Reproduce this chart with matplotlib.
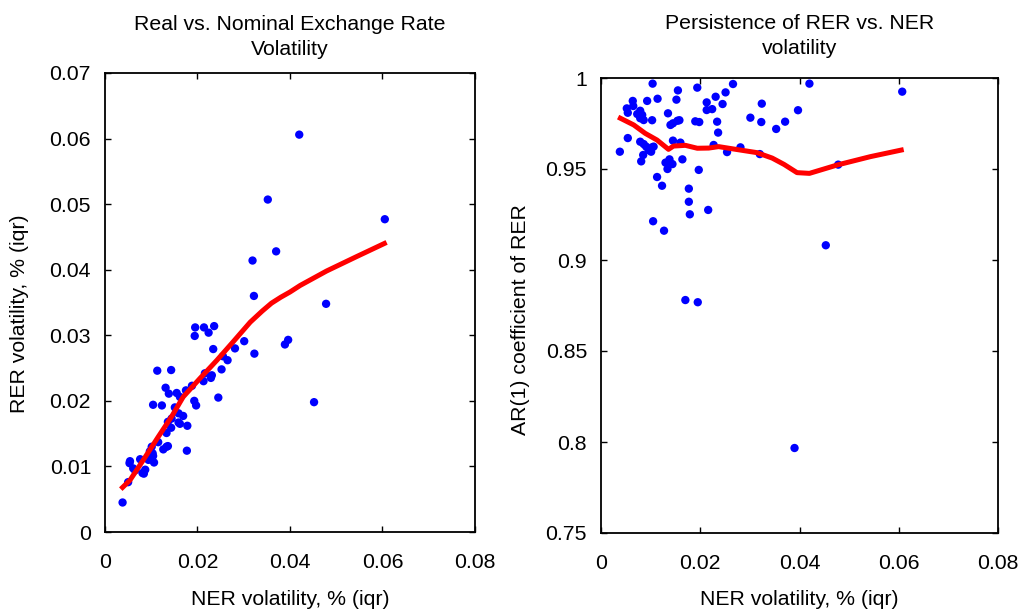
import matplotlib
matplotlib.use("Agg")
import matplotlib.pyplot as plt
import numpy as np

plt.rcParams["font.family"] = ["Liberation Sans", "DejaVu Sans"]

# -- left panel: RER volatility vs NER volatility ----------------------------
ner_left = [0.0038, 0.0050, 0.0053, 0.0054, 0.0061, 0.0065, 0.0076, 0.0081,
            0.0084, 0.0087, 0.0094, 0.0097, 0.0101, 0.0103, 0.0104, 0.0106,
            0.0113, 0.0104, 0.0115, 0.0123, 0.0126, 0.0133, 0.0136, 0.0131,
            0.0133, 0.0136, 0.0138, 0.0143, 0.0143, 0.0144, 0.0151, 0.0155,
            0.0159, 0.0162, 0.0159, 0.0162, 0.0169, 0.0175, 0.0178, 0.0177,
            0.0188, 0.0193, 0.0197, 0.0195, 0.0194, 0.0214, 0.0213, 0.0216,
            0.0224, 0.0229, 0.0231, 0.0236, 0.0234, 0.0245, 0.0252, 0.0265,
            0.0255, 0.0281, 0.0301, 0.0319, 0.0322, 0.0323, 0.0370, 0.0389,
            0.0396, 0.0352, 0.0420, 0.0605, 0.0478, 0.0452]
rer_left = [0.0045, 0.0076, 0.0105, 0.0108, 0.0097, 0.0094, 0.0111, 0.0090,
            0.0089, 0.0095, 0.0110, 0.0123, 0.0130, 0.0120, 0.0116, 0.0106,
            0.0246, 0.0194, 0.0137, 0.0193, 0.0126, 0.0130, 0.0131, 0.0220,
            0.0151, 0.0168, 0.0211, 0.0247, 0.0159, 0.0173, 0.0190, 0.0212,
            0.0181, 0.0206, 0.0167, 0.0165, 0.0177, 0.0216, 0.0162, 0.0124,
            0.0223, 0.0200, 0.0193, 0.0312, 0.0299, 0.0312, 0.0230, 0.0242,
            0.0304, 0.0235, 0.0239, 0.0314, 0.0279, 0.0205, 0.0248, 0.0262,
            0.0268, 0.0280, 0.0291, 0.0414, 0.0360, 0.0272, 0.0428, 0.0286,
            0.0293, 0.0507, 0.0606, 0.0477, 0.0348, 0.0198]
fit_left_x = [0.0038, 0.0054, 0.0083, 0.0115, 0.0144, 0.0169, 0.0205, 0.0242,
              0.0277, 0.0314, 0.0340, 0.0360, 0.0380, 0.0400, 0.0422, 0.0479,
              0.0544, 0.0604]
fit_left_y = [0.0068, 0.0079, 0.0110, 0.0145, 0.0176, 0.0206, 0.0234, 0.0262,
              0.0290, 0.0320, 0.0337, 0.0349, 0.0358, 0.0366, 0.0376, 0.0398,
              0.0420, 0.0440]

# -- right panel: AR(1) of RER vs NER volatility -----------------------------
ner_right = [0.0104, 0.0194, 0.0266, 0.0155, 0.0251, 0.0064, 0.0093, 0.0114,
             0.0152, 0.0231, 0.0052, 0.0065, 0.0054, 0.0079, 0.0073, 0.0083,
             0.0086, 0.0079, 0.0213, 0.0245, 0.0213, 0.0224, 0.0324, 0.0135,
             0.0103, 0.0140, 0.0145, 0.0154, 0.0158, 0.0190, 0.0198, 0.0234,
             0.0301, 0.0323, 0.0371, 0.0353, 0.0236, 0.0054, 0.0038, 0.0079,
             0.0086, 0.0091, 0.0096, 0.0103, 0.0106, 0.0101, 0.0085, 0.0081,
             0.0145, 0.0160, 0.0227, 0.0254, 0.0281, 0.0320, 0.0130, 0.0138,
             0.0144, 0.0134, 0.0164, 0.0197, 0.0113, 0.0123, 0.0177, 0.0177,
             0.0179, 0.0216, 0.0105, 0.0127, 0.0420, 0.0607, 0.0397, 0.0478,
             0.0453, 0.0170, 0.0195, 0.0390]
ar1_right = [0.9969, 0.9947, 0.9967, 0.9932, 0.9921, 0.9874, 0.9874, 0.9886,
             0.9881, 0.9897, 0.9833, 0.9846, 0.9809, 0.9820, 0.9802, 0.9797,
             0.9769, 0.9779, 0.9866, 0.9857, 0.9824, 0.9829, 0.9859, 0.9806,
             0.9768, 0.9742, 0.9751, 0.9765, 0.9768, 0.9762, 0.9758, 0.9760,
             0.9782, 0.9758, 0.9760, 0.9720, 0.9700, 0.9670, 0.9595, 0.9650,
             0.9637, 0.9623, 0.9604, 0.9619, 0.9623, 0.9595, 0.9577, 0.9542,
             0.9656, 0.9645, 0.9632, 0.9593, 0.9619, 0.9582, 0.9535, 0.9553,
             0.9527, 0.9500, 0.9553, 0.9495, 0.9456, 0.9408, 0.9392, 0.9320,
             0.9251, 0.9275, 0.9213, 0.9161, 0.9969, 0.9925, 0.9823, 0.9524,
             0.9081, 0.8780, 0.8768, 0.7967]
fit_right_x = [0.0039, 0.0066, 0.0089, 0.0113, 0.0136, 0.0146, 0.0170, 0.0194,
               0.0217, 0.0237, 0.0267, 0.0314, 0.0345, 0.0369, 0.0395, 0.0420,
               0.0476, 0.0543, 0.0605]
fit_right_y = [0.9779, 0.9742, 0.9696, 0.9659, 0.9608, 0.9626, 0.9630, 0.9614,
               0.9615, 0.9623, 0.9610, 0.9590, 0.9560, 0.9525, 0.9480, 0.9476,
               0.9522, 0.9568, 0.9604]

xticks = [0, 0.02, 0.04, 0.06, 0.08]
xticklabels = ["0", "0.02", "0.04", "0.06", "0.08"]
yticks_left = [0, 0.01, 0.02, 0.03, 0.04, 0.05, 0.06, 0.07]
yticklabels_left = ["0", "0.01", "0.02", "0.03", "0.04", "0.05", "0.06", "0.07"]
yticks_right = [0.75, 0.8, 0.85, 0.9, 0.95, 1.0]
yticklabels_right = ["0.75", "0.8", "0.85", "0.9", "0.95", "1"]

FS = 15.3

fig = plt.figure(figsize=(10.2, 6.09), dpi=100)
ax1 = fig.add_axes([105 / 1020, 77 / 609, 370 / 1020, 459 / 609])
ax2 = fig.add_axes([601 / 1020, 76 / 609, 397 / 1020, 455 / 609])


def style(ax, yticks, yticklabels, ylim):
    ax.set_xlim(0, 0.08)
    ax.set_ylim(*ylim)
    ax.set_xticks(xticks)
    ax.set_xticklabels(xticklabels)
    ax.set_yticks(yticks)
    ax.set_yticklabels(yticklabels)
    ax.tick_params(direction="in", length=4, width=1, top=True, right=True,
                   labelsize=FS, color="black")
    ax.tick_params(axis="x", pad=15)
    ax.tick_params(axis="y", pad=10)
    for s in ax.spines.values():
        s.set_linewidth(1.3)
        s.set_color("black")
    ax.set_xlabel("NER volatility, % (iqr)", fontsize=FS)


style(ax1, yticks_left, yticklabels_left, (0, 0.07))
ax1.scatter(ner_left, rer_left, s=36, color="#0000ff", edgecolors="none",
            zorder=3)
ax1.plot(fit_left_x, fit_left_y, color="#ff0000", lw=3.6, zorder=4)
ax1.set_ylabel("RER volatility, % (iqr)", fontsize=FS)
ax1.set_title("Real vs. Nominal Exchange Rate\nVolatility", fontsize=FS,
              pad=13, linespacing=1.4)
ax1.yaxis.set_label_coords(-0.205, 0.475)
ax1.xaxis.set_label_coords(0.5, -0.126)

style(ax2, yticks_right, yticklabels_right, (0.75, 1.0))
ax2.scatter(ner_right, ar1_right, s=36, color="#0000ff", edgecolors="none",
            zorder=3)
ax2.plot(fit_right_x, fit_right_y, color="#ff0000", lw=3.6, zorder=4)
ax2.set_ylabel("AR(1) coefficient of RER", fontsize=FS)
ax2.set_title("Persistence of RER vs. NER\nvolatility", fontsize=FS, pad=17,
              linespacing=1.4)
ax2.yaxis.set_label_coords(-0.179, 0.468)
ax2.xaxis.set_label_coords(0.5, -0.125)

fig.savefig("out.png", dpi=100, facecolor="white")
